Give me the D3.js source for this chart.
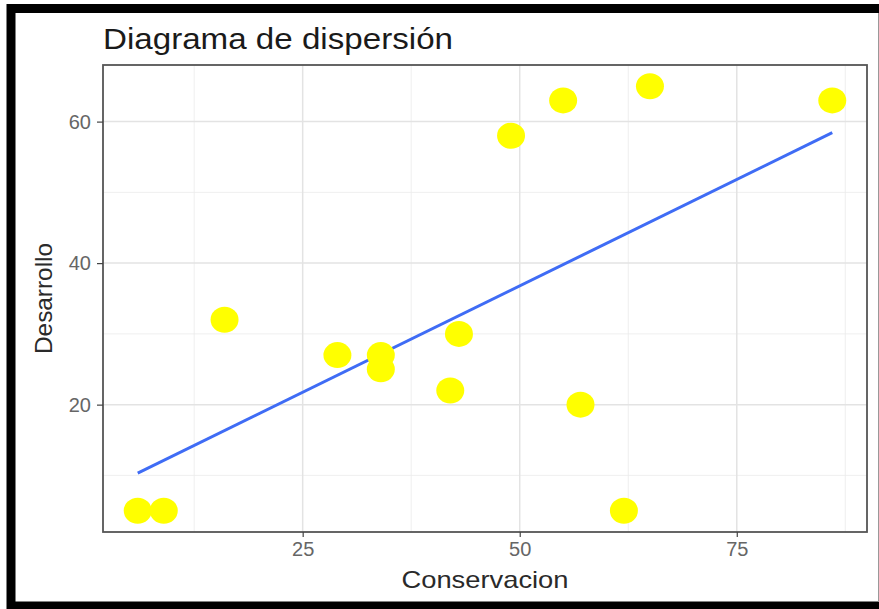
<!doctype html>
<html lang="es">
<head>
<meta charset="utf-8">
<title>Diagrama de dispersión</title>
<script src="https://d3js.org/d3.v7.min.js"></script>
<style>
  html, body { margin: 0; padding: 0; background: #fff; }
  svg { display: block; font-family: "Liberation Sans", Arial, sans-serif; }
</style>
</head>
<body>
<svg id="chart" width="879" height="609"></svg>
<script>
// data
var conservacion = [6, 9, 16, 29, 34, 34, 42, 43, 49, 55, 65, 86, 57, 62];
var desarrollo   = [5, 5, 32, 27, 27, 25, 22, 30, 58, 63, 65, 63, 20, 5];
var xTicks = [25, 50, 75];
var yTicks = [20, 40, 60];
var xMinor = [12.5, 37.5, 62.5, 87.5];
var yMinor = [10, 30, 50];

var svg = d3.select("#chart");

// outer black frame of the screenshot
svg.append("rect")
    .attr("x", 11).attr("y", 8.5)
    .attr("width", 885).attr("height", 597.5)
    .attr("fill", "#fff")
    .attr("stroke", "#000")
    .attr("stroke-width", 9);
svg.append("line")
    .attr("x1", 878.5).attr("x2", 878.5)
    .attr("y1", 13).attr("y2", 602)
    .attr("stroke", "#999").attr("stroke-width", 1);

var pLeft = 103, pRight = 867, pTop = 65, pBottom = 532;

var x = d3.scaleLinear().domain([2, 90]).range([pLeft, pRight]);
var y = d3.scaleLinear().domain([2, 68]).range([pBottom, pTop]);

// grid
var grid = svg.append("g");
grid.selectAll(".xmin").data(xMinor).enter().append("line")
    .attr("x1", d => x(d)).attr("x2", d => x(d))
    .attr("y1", pTop).attr("y2", pBottom)
    .attr("stroke", "#ebebeb").attr("stroke-width", 0.8);
grid.selectAll(".ymin").data(yMinor).enter().append("line")
    .attr("x1", pLeft).attr("x2", pRight)
    .attr("y1", d => y(d)).attr("y2", d => y(d))
    .attr("stroke", "#ebebeb").attr("stroke-width", 0.8);
grid.selectAll(".xmaj").data(xTicks).enter().append("line")
    .attr("x1", d => x(d)).attr("x2", d => x(d))
    .attr("y1", pTop).attr("y2", pBottom)
    .attr("stroke", "#e3e3e3").attr("stroke-width", 1.5);
grid.selectAll(".ymaj").data(yTicks).enter().append("line")
    .attr("x1", pLeft).attr("x2", pRight)
    .attr("y1", d => y(d)).attr("y2", d => y(d))
    .attr("stroke", "#e3e3e3").attr("stroke-width", 1.5);

// regression line (lm)
var n = conservacion.length;
var mx = d3.mean(conservacion), my = d3.mean(desarrollo);
var sxy = 0, sxx = 0;
for (var i = 0; i < n; i++) {
    sxy += (conservacion[i] - mx) * (desarrollo[i] - my);
    sxx += (conservacion[i] - mx) * (conservacion[i] - mx);
}
var slope = sxy / sxx, icpt = my - slope * mx;
var xr = d3.extent(conservacion);
svg.append("line")
    .attr("x1", x(xr[0])).attr("y1", y(icpt + slope * xr[0]))
    .attr("x2", x(xr[1])).attr("y2", y(icpt + slope * xr[1]))
    .attr("stroke", "#3f6cf5")
    .attr("stroke-width", 3);

// points
svg.selectAll(".pt").data(conservacion).enter().append("ellipse")
    .attr("cx", d => x(d))
    .attr("cy", (d, i) => y(desarrollo[i]))
    .attr("rx", 14).attr("ry", 13)
    .attr("fill", "#ffff00");

// panel border
svg.append("rect")
    .attr("x", pLeft).attr("y", pTop)
    .attr("width", pRight - pLeft).attr("height", pBottom - pTop)
    .attr("fill", "none")
    .attr("stroke", "#555").attr("stroke-width", 1.8);

// axes
var xAxis = svg.append("g")
    .attr("transform", "translate(0," + pBottom + ")")
    .call(d3.axisBottom(x).tickValues(xTicks).tickSize(5).tickPadding(5));
var yAxis = svg.append("g")
    .attr("transform", "translate(" + pLeft + ",0)")
    .call(d3.axisLeft(y).tickValues(yTicks).tickSize(6).tickPadding(6));
[xAxis, yAxis].forEach(function(a) {
    a.select(".domain").remove();
    a.selectAll(".tick line").attr("stroke", "#444").attr("stroke-width", 1.2);
    a.selectAll(".tick text")
        .attr("fill", "#666")
        .style("font-size", "20px")
        .style("font-family", "'Liberation Sans', Arial, sans-serif");
});

// titles
svg.append("text")
    .attr("x", pLeft).attr("y", 49)
    .attr("textLength", 350).attr("lengthAdjust", "spacingAndGlyphs")
    .style("font-size", "29px")
    .attr("fill", "#1a1a1a")
    .text("Diagrama de dispersión");

svg.append("text")
    .attr("x", (pLeft + pRight) / 2).attr("y", 588)
    .attr("text-anchor", "middle")
    .attr("textLength", 167).attr("lengthAdjust", "spacingAndGlyphs")
    .style("font-size", "24px")
    .attr("fill", "#2a2a2a")
    .text("Conservacion");

svg.append("text")
    .attr("transform", "translate(52," + (pTop + pBottom) / 2 + ") rotate(-90)")
    .attr("text-anchor", "middle")
    .attr("textLength", 111).attr("lengthAdjust", "spacingAndGlyphs")
    .style("font-size", "24px")
    .attr("fill", "#2a2a2a")
    .text("Desarrollo");
</script>
</body>
</html>
